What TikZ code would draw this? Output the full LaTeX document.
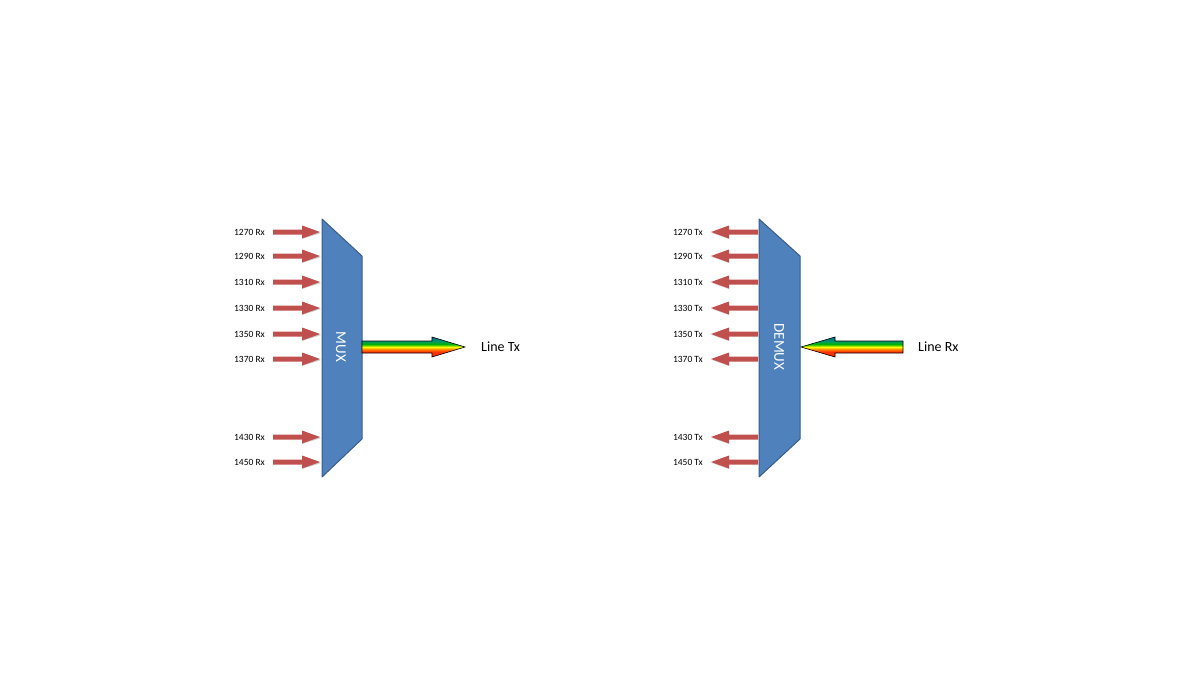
\documentclass[tikz,border=0pt]{standalone}
\usepackage{fontspec}
\setmainfont{Carlito}
\definecolor{muxblue}{HTML}{4F81BD}
\definecolor{muxedge}{HTML}{385D8A}
\definecolor{arred}{HTML}{C0504D}
\pgfdeclareverticalshading{rainbow}{100bp}{color(0bp)=(red);color(38bp)=(red!60!orange);color(44bp)=(orange);color(50bp)=(yellow);color(57bp)=(green!70!black);color(64bp)=(green!60!blue);color(100bp)=(blue)}
\begin{document}
\begin{tikzpicture}[x=1pt,y=-1pt,
  lbl/.style={anchor=east,font=\fontsize{9.5}{11}\selectfont,inner sep=0pt},
  big/.style={anchor=west,font=\fontsize{14}{16}\selectfont,inner sep=0pt},
  mux/.style={fill=muxblue,draw=muxedge,line width=1pt,line join=round},
  redarr/.style={fill=arred,draw=none}]
\useasboundingbox (0,0) rectangle (1200,699);
\fill[white] (0,0) rectangle (1200,699);
% MUX
\draw[mux] (322,219) -- (362,256) -- (362,439) -- (322,477) -- cycle;
\node[rotate=-90,text=white,font=\fontsize{15}{17}\selectfont] (mux) at (341,347) {MUX};
\draw[mux] (759,219) -- (800,256) -- (800,439) -- (759,477) -- cycle;
\node[rotate=-90,text=white,font=\fontsize{15}{17}\selectfont] (demux) at (779,347) {DEMUX};
\foreach \y/\w in {232/1270,256/1290,282/1310,308/1330,334/1350,359/1370,437/1430,462/1450}{
  \node[lbl] (rx\w) at (265,\y) {\w\ Rx};
  \node[lbl] (tx\w) at (703,\y) {\w\ Tx};
  \fill[gray!40] (274,\y+1.5) -- (302,\y+1.5) -- (302,\y+7) -- (321,\y+1) -- (302,\y-5) -- (302,\y-1) -- (274,\y-1) -- cycle;
  \fill[redarr] (273,\y-2.5) -- (302,\y-2.5) -- (302,\y-6.5) -- (320,\y) -- (302,\y+6.5) -- (302,\y+2.5) -- (273,\y+2.5) -- cycle;
  \fill[gray!40] (758,\y+1.5) -- (729,\y+1.5) -- (729,\y+7) -- (712,\y+1) -- (729,\y-5) -- (729,\y-1) -- (758,\y-1) -- cycle;
  \fill[redarr] (758,\y-2.5) -- (729,\y-2.5) -- (729,\y-6.5) -- (711,\y) -- (729,\y+6.5) -- (729,\y+2.5) -- (758,\y+2.5) -- cycle;
}
% rainbow arrows
\draw[shading=rainbow,line width=0.6pt] (362,341) -- (432,341) -- (432,337) -- (465,347) -- (432,357) -- (432,353) -- (362,353) -- cycle;
\draw[shading=rainbow,line width=0.6pt] (903,341) -- (835,341) -- (835,337) -- (801,347) -- (835,357) -- (835,353) -- (903,353) -- cycle;
\node[big] (ltx) at (481,347) {Line Tx};
\node[big] (lrx) at (918,347) {Line Rx};
\end{tikzpicture}
\end{document}
